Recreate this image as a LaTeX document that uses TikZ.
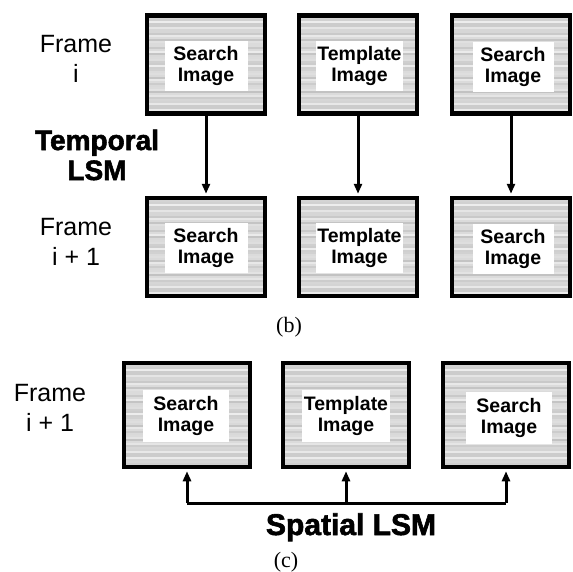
\documentclass[tikz,border=0pt]{standalone}
\usepackage{fontspec}
\setmainfont{Liberation Sans}
\newfontfamily\heavy[FakeBold=2]{Liberation Sans Bold}
\newfontfamily\seriffont{Liberation Serif}
\usetikzlibrary{arrows.meta}
\tikzset{
  framebox/.style={draw=black, line width=4.5pt, fill=black!17,
    minimum width=118pt, minimum height=98pt, inner sep=0pt,
    path picture={
      \foreach \k in {0,...,55}{
        \pgfmathsetmacro\g{int(16+5*sin(\k*97)+4*sin(\k*211+30))}
        \fill[black!\g] ([yshift={-\k*2pt}]path picture bounding box.north west)
          rectangle ([yshift={-\k*2pt-2pt}]path picture bounding box.north east);
      }
    }},
  bigbox/.style={framebox, minimum width=126pt, minimum height=104pt},
  lab/.style={fill=white, inner sep=0pt, minimum width=83pt, minimum height=50pt,
    align=center, font=\bfseries\fontsize{19.5}{21}\selectfont},
  frametxt/.style={align=center, font=\fontsize{25}{30}\selectfont},
  lsm/.style={align=center, font=\heavy\fontsize{28}{30}\selectfont},
  captxt/.style={font=\seriffont\fontsize{22}{24}\selectfont},
  arr/.style={line width=3pt, -{Triangle[length=10pt,width=8pt]}},
  ln/.style={line width=3pt}
}
\begin{document}
\begin{tikzpicture}[x=1pt,y=-1pt]
\useasboundingbox (0,0) rectangle (572,572);
% (b) top row
\node[framebox] (t1) at (206,64.5) {};
\node[framebox] (t2) at (358,64.5) {};
\node[framebox] (t3) at (511,64.5) {};
\node[lab] (lt1) at (206,66) {Search\\Image};
\node[lab, minimum width=87pt] (lt2) at (359.5,66) {Template\\Image};
\node[lab, minimum width=81pt] (lt3) at (513,67) {Search\\Image};
% (b) bottom row
\node[framebox] (b1) at (206,247) {};
\node[framebox] (b2) at (358,247) {};
\node[framebox] (b3) at (511,247) {};
\node[lab] (lb1) at (206,248) {Search\\Image};
\node[lab, minimum width=87pt] (lb2) at (359.5,248) {Template\\Image};
\node[lab, minimum width=81pt] (lb3) at (513,249) {Search\\Image};
\draw[arr, shorten >=2pt] (t1) -- (b1);
\draw[arr, shorten >=2pt] (t2) -- (b2);
\draw[arr, shorten >=2pt] (t3) -- (b3);
\node[frametxt] (fi) at (76,59) {Frame\\i};
\node[frametxt] (fi1) at (76,242) {Frame\\i + 1};
\node[lsm] (tlsm) at (97,155) {Temporal\\LSM};
\node[captxt] (capb) at (289,327) {(b)};
% (c)
\node[bigbox] (c1) at (187,415) {};
\node[bigbox] (c2) at (346,415) {};
\node[bigbox] (c3) at (506,415) {};
\node[lab, minimum width=86pt, minimum height=52pt] (lc1) at (186,416) {Search\\Image};
\node[lab, minimum width=88pt, minimum height=52pt] (lc2) at (346,416) {Template\\Image};
\node[lab, minimum width=86pt, minimum height=52pt] (lc3) at (509,418) {Search\\Image};
\coordinate (h) at (346,503);
\draw[ln] (c1.south |- h) -- (c3.south |- h);
\draw[arr, shorten >=2pt] (c1.south |- h) -- (c1.south);
\draw[arr, shorten >=2pt] (h) -- (c2.south);
\draw[arr, shorten >=2pt] (c3.south |- h) -- (c3.south);
\node[frametxt] (fc) at (50,408) {Frame\\i + 1};
\node[lsm, anchor=base, font=\heavy\fontsize{30}{32}\selectfont] (slsm) at (351,535) {Spatial LSM};
\node[captxt] (capc) at (286,562) {(c)};
\end{tikzpicture}
\end{document}
